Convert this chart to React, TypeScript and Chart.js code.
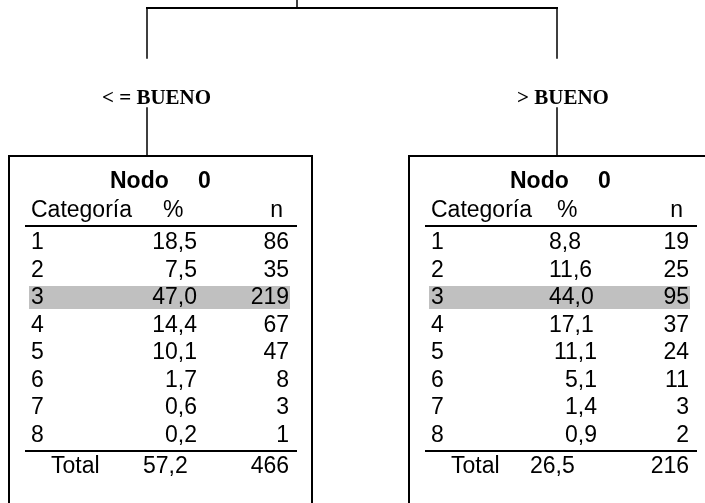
import React, { useEffect, useRef } from "react";
import { Chart, registerables } from "chart.js";

Chart.register(...registerables);

// ---- data ----
const categories = ["1", "2", "3", "4", "5", "6", "7", "8"];
const splitLabels = ["< = BUENO", "> BUENO"];
const nodeTitles = ["Nodo    0", "Nodo    0"];
const leftPct = ["18,5", "7,5", "47,0", "14,4", "10,1", "1,7", "0,6", "0,2"];
const leftN = [86, 35, 219, 67, 47, 8, 3, 1];
const rightPct = ["8,8", "11,6", "44,0", "17,1", "11,1", "5,1", "1,4", "0,9"];
const rightN = [19, 25, 95, 37, 24, 11, 3, 2];
const totalPct = ["57,2", "26,5"];
const totalN = [466, 216];
const highlightIndex = 2;
const headers = ["Categoría", "%", "n"];

// ---- layout ----
const W = 705;
const H = 503;
const boxLeft = [9, 409];
const boxRight = [312, 760];
const boxTop = 156;
const connectorX = [147, 557];
const labelX = [102, 517];
const labelY = 104;
const rowY0 = 249;
const rowStep = 27.5;
const FONT = '"Liberation Sans", Arial, sans-serif';

type Seg = { pts: number[][]; w: number };

function segments(): Seg[] {
  const s: Seg[] = [];
  s.push({ pts: [[297, 0], [297, 8]], w: 1.5 });
  s.push({ pts: [[connectorX[0], 8], [connectorX[1], 8]], w: 2 });
  connectorX.forEach((x) => {
    s.push({ pts: [[x, 8], [x, 58]], w: 1.5 });
    s.push({ pts: [[x, 108], [x, boxTop]], w: 1.5 });
  });
  [0, 1].forEach((b) => {
    const l = boxLeft[b];
    const r = boxRight[b];
    s.push({ pts: [[l, H + 5], [l, boxTop], [r, boxTop], [r, H + 5]], w: 2 });
    s.push({ pts: [[l + 17, 226], [l + 287, 226]], w: 2 });
    s.push({ pts: [[l + 17, 451], [l + 287, 451]], w: 2 });
  });
  return s;
}

const textPlugin = {
  id: "treeText",
  beforeDatasetsDraw(chart: any) {
    const { ctx, scales } = chart;
    const px = (v: number) => scales.x.getPixelForValue(v);
    const py = (v: number) => scales.y.getPixelForValue(v);
    ctx.save();
    ctx.fillStyle = "#c0c0c0";
    [0, 1].forEach((b) => {
      const l = boxLeft[b];
      const y = rowY0 + rowStep * highlightIndex;
      ctx.fillRect(px(l + 20), py(y - 18), px(l + 281) - px(l + 20), py(y + 5) - py(y - 18));
    });
    ctx.restore();
  },
  afterDatasetsDraw(chart: any) {
    const { ctx, scales } = chart;
    const px = (v: number) => scales.x.getPixelForValue(v);
    const py = (v: number) => scales.y.getPixelForValue(v);
    ctx.save();
    ctx.fillStyle = "#000";
    ctx.textBaseline = "alphabetic";
    // split labels
    ctx.font = 'bold 21px "Liberation Serif", "Times New Roman", serif';
    ctx.textAlign = "left";
    splitLabels.forEach((t, i) => ctx.fillText(t, px(labelX[i]), py(labelY)));

    const pcts = [leftPct, rightPct];
    const ns = [leftN, rightN];
    [0, 1].forEach((b) => {
      const l = boxLeft[b];
      // title
      ctx.font = `bold 23px ${FONT}`;
      ctx.textAlign = "left";
      const [w1, w2] = nodeTitles[b].split(/\s+/);
      ctx.fillText(w1, px(l + 101), py(188));
      ctx.fillText(w2, px(l + 189), py(188));
      // headers
      ctx.font = `23px ${FONT}`;
      ctx.textAlign = "left";
      ctx.fillText(headers[0], px(l + 22), py(217));
      ctx.fillText(headers[1], px(l + (b === 0 ? 154 : 148)), py(217));
      ctx.textAlign = "right";
      ctx.fillText(headers[2], px(l + 274), py(217));
      // rows
      categories.forEach((c, i) => {
        const y = py(rowY0 + rowStep * i);
        ctx.textAlign = "left";
        ctx.fillText(c, px(l + 22), y);
        if (b === 1 && i < 4) {
          ctx.textAlign = "left";
          ctx.fillText(pcts[b][i], px(l + 140), y);
        } else {
          ctx.textAlign = "right";
          ctx.fillText(pcts[b][i], px(l + 188), y);
        }
        ctx.textAlign = "right";
        ctx.fillText(String(ns[b][i]), px(l + 280), y);
      });
      // total
      ctx.textAlign = "left";
      ctx.fillText("Total", px(l + 42), py(473));
      ctx.fillText(totalPct[b], px(l + (b === 0 ? 134 : 121)), py(473));
      ctx.textAlign = "right";
      ctx.fillText(String(totalN[b]), px(l + 280), py(473));
    });
    ctx.restore();
  },
};

export default function App() {
  const ref = useRef<HTMLCanvasElement | null>(null);
  useEffect(() => {
    if (!ref.current) return;
    const datasets = segments().map((s) => ({
      type: "line" as const,
      data: s.pts.map(([x, y]) => ({ x, y })),
      borderColor: "#000",
      borderWidth: s.w,
      pointRadius: 0,
      fill: false,
      tension: 0,
      borderCapStyle: "square" as const,
    }));
    const chart = new Chart(ref.current, {
      type: "scatter",
      data: { datasets: datasets as any },
      options: {
        animation: false,
        responsive: false,
        maintainAspectRatio: false,
        devicePixelRatio: 1,
        layout: { padding: 0 },
        plugins: { legend: { display: false }, tooltip: { enabled: false } },
        datasets: { scatter: { showLine: true } } as any,
        scales: {
          x: { type: "linear", min: 0, max: W, display: false },
          y: { type: "linear", min: 0, max: H, reverse: true, display: false },
        },
        events: [],
      },
      plugins: [textPlugin],
    });
    return () => chart.destroy();
  }, []);
  return (
    <div style={{ position: "fixed", left: 0, top: 0, width: W, height: H, background: "#fff" }}>
      <canvas ref={ref} width={W} height={H} style={{ width: W, height: H, display: "block" }} />
    </div>
  );
}
